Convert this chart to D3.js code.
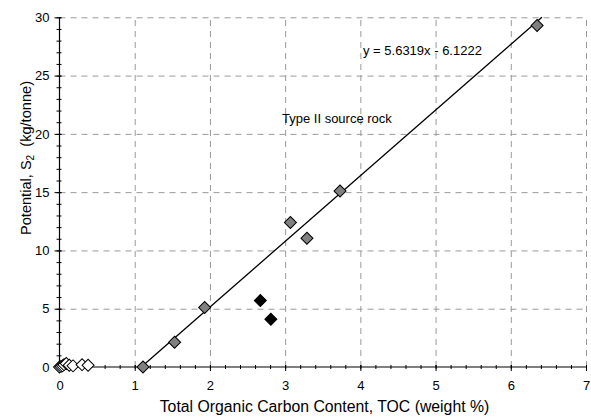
<!DOCTYPE html>
<html>
<head>
<meta charset="utf-8">
<script src="https://cdn.jsdelivr.net/npm/d3@7"></script>
<style>
  html, body { margin: 0; padding: 0; background: #fff; }
  svg { display: block; font-family: Arial, "Liberation Sans", sans-serif; }
</style>
</head>
<body>
<svg id="chart" width="591" height="418"></svg>
<script>
// ---- data ----
const grayTOC  = [1.11, 1.53, 1.93, 3.07, 3.29, 3.73, 6.35];
const grayS2   = [0.0, 2.12, 5.1, 12.4, 11.05, 15.1, 29.3];
const blackTOC = [2.67, 2.81];
const blackS2  = [5.7, 4.1];
const whiteTOC = [0.0, 0.02, 0.04, 0.06, 0.09, 0.13, 0.18, 0.30, 0.38];
const whiteS2  = [0.0, 0.05, 0.1, 0.2, 0.3, 0.15, 0.1, 0.2, 0.15];
const trendSlope = 5.6319;
const trendIntercept = -6.1222;
const xTicks = [0, 1, 2, 3, 4, 5, 6, 7];
const yTicks = [0, 5, 10, 15, 20, 25, 30];
const xTitle = "Total Organic Carbon Content, TOC (weight %)";
const equationText = "y = 5.6319x - 6.1222";
const noteText = "Type II source rock";

// ---- layout ----
const svg = d3.select("#chart");
const x = d3.scaleLinear().domain([0, 7]).range([59.5, 586]);
const y = d3.scaleLinear().domain([0, 30]).range([367, 17.3]);

// gridlines (drawn via axes with full-length ticks)
const gridColor = "#999999";
const gxGrid = svg.append("g").attr("class", "xgrid")
  .attr("transform", `translate(0,${y(0)})`)
  .call(d3.axisBottom(x).tickValues(xTicks.filter(d => d > 0))
    .tickSize(-(y(0) - y(30))).tickFormat(""));
gxGrid.select(".domain").remove();
gxGrid.selectAll("line").attr("stroke", gridColor).attr("stroke-width", 1)
  .attr("stroke-dasharray", "6,5").style("stroke", gridColor).style("stroke-dasharray", "6,5");

const gyGrid = svg.append("g").attr("class", "ygrid")
  .attr("transform", `translate(${x(0)},0)`)
  .call(d3.axisLeft(y).tickValues(yTicks.filter(d => d > 0))
    .tickSize(-(x(7) - x(0))).tickFormat(""));
gyGrid.select(".domain").remove();
gyGrid.selectAll("line").attr("stroke", gridColor).attr("stroke-width", 1)
  .attr("stroke-dasharray", "6,5").style("stroke", gridColor).style("stroke-dasharray", "6,5");

// axes
const xAxisMinor = d3.axisBottom(x).tickValues(d3.range(0, 7.001, 0.2)).tickSize(2).tickFormat("");
const xAxisMajor = d3.axisBottom(x).tickValues(xTicks).tickSize(4).tickPadding(10).tickFormat(d3.format("d"));
const yAxisMinor = d3.axisLeft(y).tickValues(d3.range(0, 30.001, 1)).tickSize(3).tickFormat("");
const yAxisMajor = d3.axisLeft(y).tickValues(yTicks).tickSize(5).tickPadding(5).tickFormat(d3.format("d"));

function styleAxis(g) {
  g.selectAll("path").attr("stroke", "#000").attr("stroke-width", 1.2);
  g.selectAll("line").attr("stroke", "#000").attr("stroke-width", 1);
  g.selectAll("text").attr("fill", "#000").attr("font-size", "13px")
    .attr("font-family", "Arial, 'Liberation Sans', sans-serif");
}

const gx = svg.append("g").attr("transform", `translate(0,${y(0)})`);
gx.append("g").call(xAxisMinor).call(styleAxis)
  .selectAll("line").attr("y1", -2).attr("y2", 2);
gx.append("g").call(xAxisMajor).call(styleAxis)
  .selectAll(".tick line").attr("y1", -2).attr("y2", 4);
gx.selectAll(".domain").remove();
gx.append("line").attr("x1", x(0)).attr("x2", x(7)).attr("y1", 0).attr("y2", 0)
  .attr("stroke", "#000").attr("stroke-width", 1.2);

const gy = svg.append("g").attr("transform", `translate(${x(0)},0)`);
gy.append("g").call(yAxisMinor).call(styleAxis)
  .selectAll("line").attr("x1", 2).attr("x2", -3);
gy.append("g").call(yAxisMajor).call(styleAxis)
  .selectAll(".tick line").attr("x1", 2).attr("x2", -5);
gy.selectAll(".domain").remove();
gy.append("line").attr("x1", 0).attr("x2", 0).attr("y1", y(0)).attr("y2", y(30))
  .attr("stroke", "#000").attr("stroke-width", 1.2);

// trend line (from y=0 to y=30)
const x0t = (0 - trendIntercept) / trendSlope;
const x1t = (30 - trendIntercept) / trendSlope;
svg.append("line")
  .attr("x1", x(x0t)).attr("y1", y(trendSlope * x0t + trendIntercept))
  .attr("x2", x(x1t)).attr("y2", y(trendSlope * x1t + trendIntercept))
  .attr("stroke", "#000").attr("stroke-width", 1.3);

// markers
const diamond = d3.symbol().type(d3.symbolSquare).size(72);
function drawSeries(xs, ys, fill) {
  svg.append("g").selectAll("path")
    .data(xs.map((v, i) => [v, ys[i]]))
    .join("path")
    .attr("d", diamond)
    .attr("transform", d => `translate(${x(d[0])},${y(d[1])}) rotate(45)`)
    .attr("fill", fill).attr("stroke", "#000").attr("stroke-width", 1);
}
drawSeries(whiteTOC, whiteS2, "#ffffff");
drawSeries(grayTOC, grayS2, "#808080");
drawSeries(blackTOC, blackS2, "#000000");

// annotations
svg.append("text").attr("x", 363).attr("y", 55).attr("font-size", "13px").attr("fill", "#000")
  .text(equationText);
svg.append("text").attr("x", 282).attr("y", 123).attr("font-size", "13px").attr("fill", "#000")
  .text(noteText);

// axis titles
svg.append("text").attr("x", (159 + 490) / 2).attr("y", 412).attr("text-anchor", "middle")
  .attr("font-size", "15.8px").attr("fill", "#000").text(xTitle);

const yt = svg.append("text").attr("transform", "translate(31,158) rotate(-90)")
  .attr("text-anchor", "middle").attr("font-size", "14.6px").attr("fill", "#000");
yt.append("tspan").text("Potential, S");
yt.append("tspan").attr("font-size", "10px").attr("dy", 3).text("2");
yt.append("tspan").attr("dy", -3).text("\u00a0\u00a0(kg/tonne)");
</script>
</body>
</html>
